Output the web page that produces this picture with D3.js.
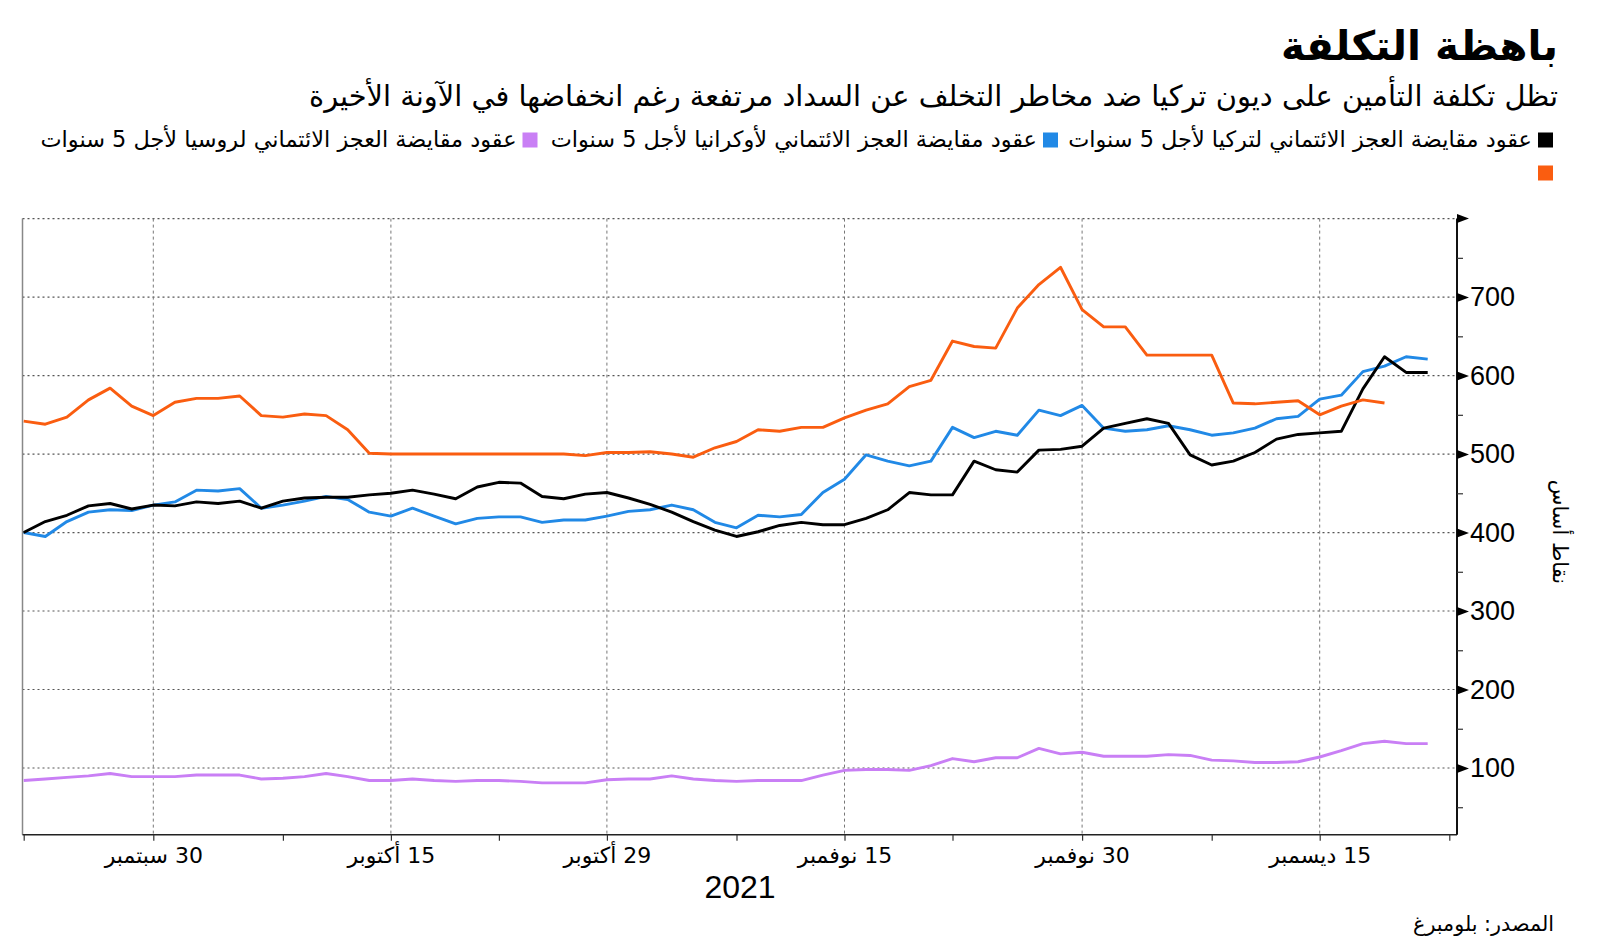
<!DOCTYPE html>
<html><head><meta charset="utf-8">
<script src="https://cdn.jsdelivr.net/npm/d3@7"></script>
<style>
html,body{margin:0;padding:0;background:#fff;}
svg{display:block;}
</style></head>
<body>
<svg id="chart" width="1600" height="952"></svg>
<script>
// ---------- data ----------
const days = [
"2021-09-22","2021-09-23","2021-09-24","2021-09-27","2021-09-28","2021-09-29","2021-09-30",
"2021-10-01","2021-10-04","2021-10-05","2021-10-06","2021-10-07","2021-10-08","2021-10-11","2021-10-12","2021-10-13","2021-10-14","2021-10-15","2021-10-18","2021-10-19","2021-10-20","2021-10-21","2021-10-22","2021-10-25","2021-10-26","2021-10-27","2021-10-28","2021-10-29",
"2021-11-01","2021-11-02","2021-11-03","2021-11-04","2021-11-05","2021-11-08","2021-11-09","2021-11-10","2021-11-11","2021-11-12","2021-11-15","2021-11-16","2021-11-17","2021-11-18","2021-11-19","2021-11-22","2021-11-23","2021-11-24","2021-11-25","2021-11-26","2021-11-29","2021-11-30",
"2021-12-01","2021-12-02","2021-12-03","2021-12-06","2021-12-07","2021-12-08","2021-12-09","2021-12-10","2021-12-13","2021-12-14","2021-12-15","2021-12-16","2021-12-17","2021-12-20","2021-12-21","2021-12-22","2021-12-23"];

const turkeyCDS = [400,414,422,434,437,430,435,434,439,437,440,431,440,444,445,445,448,450,454,449,443,458,464,463,446,443,449,451,444,436,426,414,403,395,401,409,413,410,410,418,429,451,448,448,491,480,477,505,506,510,533,539,545,539,499,486,491,502,519,525,527,529,583,624,604,604];
const ukraineCDS = [400,395,414,426,429,428,435,439,454,453,456,431,435,440,446,442,426,421,431,421,411,418,420,420,413,416,416,421,427,429,435,429,413,406,422,420,423,451,468,499,491,485,491,534,521,529,524,556,549,562,533,529,531,536,531,524,527,533,545,548,570,575,605,612,624,621];
const russiaCDS = [84,86,88,90,93,89,89,89,91,91,91,86,87,89,93,89,84,84,86,84,83,84,84,83,81,81,81,85,86,86,90,86,84,83,84,84,84,91,97,98,98,97,103,112,108,113,113,125,118,120,115,115,115,117,116,110,109,107,107,108,114,122,131,134,131,131];
const orangeCDS = [542,538,547,569,584,561,549,566,571,571,574,549,547,551,549,531,501,500,500,500,500,500,500,500,500,500,498,502,502,503,500,496,508,516,531,529,534,534,546,556,564,586,594,644,637,635,686,716,738,684,662,662,626,626,626,626,565,564,566,568,550,561,569,565];

const xTickDays = ["2021-09-22","2021-09-30","2021-10-08","2021-10-15","2021-10-22","2021-10-29","2021-11-08","2021-11-15","2021-11-22","2021-11-30","2021-12-08","2021-12-15","2021-12-23"];
const xTickLabels = {"2021-09-30":"30 سبتمبر","2021-10-15":"15 أكتوبر","2021-10-29":"29 أكتوبر","2021-11-15":"15 نوفمبر","2021-11-30":"30 نوفمبر","2021-12-15":"15 ديسمبر"};
const yMajorTicks = [100,200,300,400,500,600,700];
const yMinorTicks = [50,150,250,350,450,550,650,750];

const seriesNames = ["عقود مقايضة العجز الائتماني لتركيا لأجل 5 سنوات","عقود مقايضة العجز الائتماني لأوكرانيا لأجل 5 سنوات","عقود مقايضة العجز الائتماني لروسيا لأجل 5 سنوات",""];
const seriesColors = ["#000000","#2189e6","#c97ff5","#fa5d10"];

const titleText = "باهظة التكلفة";
const subtitleText = "تظل تكلفة التأمين على ديون تركيا ضد مخاطر التخلف عن السداد مرتفعة رغم انخفاضها في الآونة الأخيرة";
const yAxisTitle = "نقاط أساس";
const yearLabel = "2021";
const sourceText = "المصدر: بلومبرغ";

// ---------- layout ----------
const AR = "'DejaVu Sans', sans-serif";
const NUM = "'Liberation Sans', Arial, sans-serif";
const svg = d3.select("#chart");

const x = d3.scalePoint().domain(days).range([23.7, 1449.3]);
const y = d3.scaleLinear().domain([15, 800]).range([834.7, 218.6]);
const axisX = 1457, leftX = 22.5;

function fitWidth(sel, target){
  const w = sel.node().getComputedTextLength();
  const fs = parseFloat(sel.attr("font-size"));
  sel.attr("font-size", (fs*target/w).toFixed(2));
}

// title
const t = svg.append("text").attr("x",1558).attr("y",60).attr("direction","rtl").attr("text-anchor","start")
  .attr("font-family",AR).attr("font-weight","bold").attr("font-size",44).attr("fill","#000").text(titleText);
fitWidth(t, 277);
const st = svg.append("text").attr("x",1558).attr("y",106).attr("direction","rtl").attr("text-anchor","start")
  .attr("font-family",AR).attr("font-size",26).attr("fill","#000").text(subtitleText);
fitWidth(st, 1249);

// legend
const legendPos = [{x:1553,y:140},{x:1058,y:140},{x:537.5,y:140},{x:1553,y:173}];
const targetW = [472,487,476];
const lg = svg.append("g");
const lt = [];
seriesNames.forEach((n,i)=>{
  const p = legendPos[i];
  lg.append("rect").attr("x",p.x-15).attr("y",p.y-7.5).attr("width",15).attr("height",15).attr("fill",seriesColors[i]);
  if(n){
    const tt = lg.append("text").attr("x",p.x-21).attr("y",p.y+7).attr("direction","rtl").attr("text-anchor","start")
      .attr("font-family",AR).attr("font-size",20).attr("fill","#000").text(n);
    lt.push([tt,targetW[i]]);
  }
});
let ratio = d3.min(lt, d=>d[1]/d[0].node().getComputedTextLength());
lt.forEach(d=>d[0].attr("font-size",(20*ratio).toFixed(2)));

// gridlines
const grid = svg.append("g");
grid.selectAll("line.h").data(yMajorTicks.concat([800])).join("line")
  .attr("x1",leftX).attr("x2",axisX).attr("y1",d=>y(d)).attr("y2",d=>y(d))
  .attr("stroke","#555").attr("stroke-width",1.2).attr("stroke-dasharray","2,3");
grid.selectAll("line.v").data(Object.keys(xTickLabels)).join("line")
  .attr("x1",d=>x(d)).attr("x2",d=>x(d)).attr("y1",y(800)).attr("y2",y(15))
  .attr("stroke","#777").attr("stroke-width",1).attr("stroke-dasharray","3,3");
svg.append("line").attr("x1",leftX).attr("x2",leftX).attr("y1",y(800)).attr("y2",y(15))
  .attr("stroke","#888").attr("stroke-width",1.5);

// lines
const line = d3.line().x((d,i)=>x(days[i])).y(d=>y(d));
const allSeries = [russiaCDS, ukraineCDS, turkeyCDS, orangeCDS];
const allColors = [seriesColors[2], seriesColors[1], seriesColors[0], seriesColors[3]];
allSeries.forEach((s,i)=>{
  svg.append("path").attr("d",line(s)).attr("fill","none").attr("stroke",allColors[i])
    .attr("stroke-width",2.9).attr("stroke-linejoin","round");
});

// x axis
const xAxis = d3.axisBottom(x).tickValues(xTickDays).tickSize(6).tickPadding(5)
  .tickFormat(d=>xTickLabels[d]||"");
const gx = svg.append("g").attr("transform",`translate(0,${y(15)})`).call(xAxis);
gx.select(".domain").attr("d",`M${leftX},0H${axisX}`).attr("stroke","#222").attr("stroke-width",1.5);
gx.selectAll(".tick line").attr("stroke","#333").attr("stroke-width",1.2);
gx.selectAll(".tick text").attr("font-family",AR).attr("font-size",22).attr("fill","#000")
  .attr("direction","rtl").attr("dy","0.8em");

// y axis (right)
const yAxis = d3.axisRight(y).tickValues(yMajorTicks).tickSize(0).tickPadding(13).tickFormat(d3.format("d"));
const gy = svg.append("g").attr("transform",`translate(${axisX},0)`).call(yAxis);
gy.select(".domain").attr("d",`M0,${y(800)}V${y(15)}`).attr("stroke","#111").attr("stroke-width",2);
gy.selectAll(".tick text").attr("font-family",NUM).attr("font-size",27).attr("fill","#000");
gy.selectAll(".tick").append("path").attr("d","M0,-4.5L12,0L0,4.5Z").attr("fill","#000");
const yMinor = d3.axisRight(y).tickValues(yMinorTicks).tickSize(6).tickFormat("");
const gym = svg.append("g").attr("transform",`translate(${axisX},0)`).call(yMinor);
gym.select(".domain").remove();
gym.selectAll(".tick line").attr("stroke","#333").attr("stroke-width",1.2);
svg.append("path").attr("transform",`translate(${axisX},${y(800)})`).attr("d","M0,-4.5L12,0L0,4.5Z").attr("fill","#000");

// y axis title
svg.append("text").attr("transform",`translate(1553,532) rotate(90)`).attr("text-anchor","middle")
  .attr("direction","rtl").attr("font-family",AR).attr("font-size",21).attr("fill","#000").text(yAxisTitle);

// year label
svg.append("text").attr("x",740).attr("y",898).attr("text-anchor","middle")
  .attr("font-family","'Liberation Sans Narrow', 'Liberation Sans', Arial, sans-serif").attr("font-size",32).attr("fill","#000").text(yearLabel);

// source
const so = svg.append("text").attr("x",1554).attr("y",931).attr("direction","rtl").attr("text-anchor","start")
  .attr("font-family",AR).attr("font-size",20).attr("fill","#000").text(sourceText);
fitWidth(so, 141);
</script>
</body></html>
